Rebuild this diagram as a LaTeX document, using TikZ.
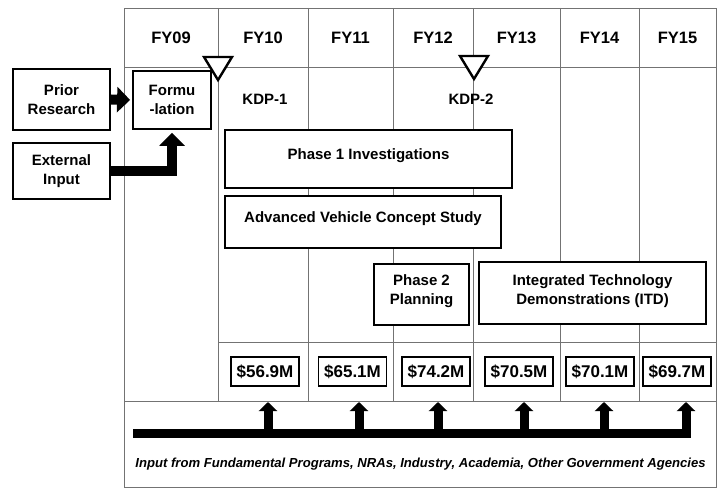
\documentclass[tikz,border=0pt]{standalone}
\usepackage{fontspec}
\setmainfont{Liberation Sans}
\usetikzlibrary{arrows.meta}
\begin{document}
\begin{tikzpicture}[x=1pt,y=-1pt,
  grid/.style={draw=black!55, line width=0.9pt},
  box/.style={draw, line width=1.8pt, fill=white, inner sep=0pt, align=center,
    font=\bfseries\fontsize{15}{19}\selectfont},
  costbox/.style={draw, line width=1.8pt, fill=white, inner sep=0pt,
    minimum width=68pt, minimum height=29pt, font=\bfseries\fontsize{17}{20}\selectfont},
  head/.style={font=\bfseries\fontsize{16.5}{19}\selectfont},
  kdplabel/.style={font=\bfseries\fontsize{15}{18}\selectfont},
  kdpmark/.style={draw, line width=2.4pt, fill=white, line join=miter},
  blockarrow/.style={line width=10pt, -{Triangle[length=13pt,width=25pt]}},
  bararrow/.style={line width=9pt, -{Triangle[length=9pt,width=18pt]}},
  foot/.style={font=\bfseries\itshape\fontsize{13.1}{16}\selectfont}
]
\useasboundingbox (0,0) rectangle (725,489);

% grid
\draw[grid] (124,8) rectangle (716,487);
\draw[grid] (124,67) -- (716,67);
\draw[grid] (218,342) -- (716,342);
\draw[grid] (124,401) -- (716,401);
\foreach \x in {218,308,393,473,560,639} \draw[grid] (\x,8) -- (\x,401);

% year headers
\node[head] (fy09) at (171,38) {FY09};
\node[head] (fy10) at (263,38) {FY10};
\node[head] (fy11) at (350.5,38) {FY11};
\node[head] (fy12) at (433,38) {FY12};
\node[head] (fy13) at (516.5,38) {FY13};
\node[head] (fy14) at (599.5,38) {FY14};
\node[head] (fy15) at (677.5,38) {FY15};

% KDP markers
\draw[kdpmark] (204,57) -- (232,57) -- (218,80) -- cycle;
\draw[kdpmark] (460,56) -- (488,56) -- (474,79) -- cycle;
\node[kdplabel] (kdp1) at (265,99) {KDP-1};
\node[kdplabel] (kdp2) at (471,99) {KDP-2};

% left boxes
\node[box, minimum width=97pt, minimum height=61pt] (prior) at (61.5,99.5)
  {Prior\\Research};
\node[box, minimum width=97pt, minimum height=56pt] (ext) at (61.5,171)
  {External\\Input};
\node[box, minimum width=78pt, minimum height=58pt] (formu) at (172,100)
  {Formu\\-lation};

\draw[blockarrow, shorten >=2pt] (prior.east) -- (formu.west);
\draw[blockarrow, shorten >=3pt] (ext.east) -| (formu.south);

% activity boxes
\node[box, minimum width=287pt, minimum height=58pt, text depth=10pt] (p1) at (368.5,159)
  {Phase 1 Investigations};
\node[box, minimum width=276pt, minimum height=52pt, text depth=10pt] (avcs) at (363,222)
  {Advanced Vehicle Concept Study};
\node[box, minimum width=95pt, minimum height=61pt, text depth=10pt] (p2) at (421.5,294.5)
  {Phase 2\\Planning};
\node[box, minimum width=227pt, minimum height=62pt, text depth=7pt] (itd) at (592.5,293)
  {Integrated Technology\\Demonstrations (ITD)};

% cost boxes
\node[costbox] (c10) at (265,371.5) {\$56.9M};
\node[costbox] (c11) at (352.5,371.5) {\$65.1M};
\node[costbox] (c12) at (436,371.5) {\$74.2M};
\node[costbox] (c13) at (519,371.5) {\$70.5M};
\node[costbox] (c14) at (600,371.5) {\$70.1M};
\node[costbox] (c15) at (677,371.5) {\$69.7M};

% bottom input bar
\coordinate (bar0) at (133,433);
\coordinate (b1) at (268,433); \coordinate (t1) at (268,402);
\coordinate (b2) at (359,433); \coordinate (t2) at (359,402);
\coordinate (b3) at (438,433); \coordinate (t3) at (438,402);
\coordinate (b4) at (524,433); \coordinate (t4) at (524,402);
\coordinate (b5) at (604,433); \coordinate (t5) at (604,402);
\coordinate (t6) at (686,402);
\draw[bararrow] (bar0) -| (t6);
\foreach \i in {1,...,5} \draw[bararrow] (b\i) -- (t\i);

\node[foot] (input) at (420.5,464)
  {Input from Fundamental Programs, NRAs, Industry, Academia, Other Government Agencies};
\end{tikzpicture}
\end{document}
